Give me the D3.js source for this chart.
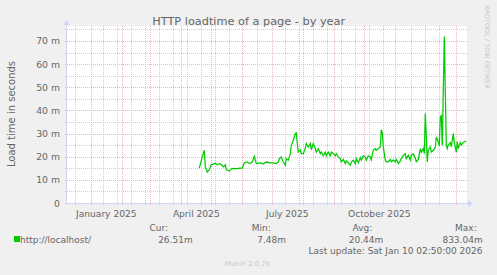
<!DOCTYPE html>
<html>
<head>
<meta charset="utf-8">
<script src="https://cdn.jsdelivr.net/npm/d3@7"></script>
<style>
  body { margin: 0; background: #F0F0F0; }
  svg { display: block; font-family: "DejaVu Sans", sans-serif; }
</style>
</head>
<body>
<div id="chart"></div>
<script>
// days since 2025-01-01 and load time (milliseconds)
var dayOffsets = [108, 111, 113, 114, 116, 118, 120, 122, 124, 126, 128, 130, 132, 134, 135, 138, 140, 143, 145, 149,
  151, 153, 155, 159, 161, 163, 165, 169, 172, 175, 179, 182, 185, 187, 188, 190, 192, 194, 195, 197,
  199, 200, 202, 204, 205, 206, 207, 209, 210, 212, 214, 215, 217, 219, 220, 222, 224, 225, 227, 229,
  230, 232, 234, 235, 237, 239, 240, 242, 244, 245, 247, 249, 250, 252, 254, 255, 257, 259, 260, 262,
  264, 265, 267, 269, 270, 272, 274, 275, 277, 279, 280, 282, 284, 285, 287, 289, 290, 291, 292, 294,
  295, 297, 299, 300, 302, 304, 305, 307, 309, 310, 312, 314, 315, 317, 319, 320, 322, 324, 325, 327,
  329, 330, 332, 333, 334, 335, 336, 337, 339, 340, 342, 344, 345, 347, 348, 349, 350, 351, 353, 355,
  356, 357, 359, 360, 362, 363, 365, 366, 367, 369, 370, 372, 373, 375];
var loadTime = [15.1, 19.9, 22.8, 15.6, 13.4, 14.4, 16.6, 16.8, 17.2, 16.5, 17.0, 16.6, 15.6, 16.5, 14.4, 13.8, 14.8, 15.0, 14.8, 15.1,
  15.1, 17.3, 17.7, 17.0, 17.8, 20.2, 17.0, 17.3, 16.8, 17.7, 17.3, 17.3, 17.0, 17.7, 19.2, 19.9, 17.7, 16.3, 19.2, 18.5,
  21.3, 24.9, 27.1, 30.0, 30.3, 25.7, 22.0, 23.0, 21.3, 21.3, 23.5, 25.7, 24.2, 25.7, 23.0, 25.7, 23.5, 22.0, 23.5, 21.3,
  22.0, 20.4, 22.0, 20.4, 22.0, 20.4, 22.0, 21.3, 20.4, 21.3, 19.9, 19.2, 17.7, 18.8, 17.0, 18.2, 17.3, 16.3, 17.7, 18.5,
  17.0, 19.2, 17.3, 19.6, 18.5, 20.4, 19.9, 18.5, 20.4, 19.9, 18.7, 22.8, 23.5, 22.8, 23.5, 24.2, 31.7, 30.2, 24.2, 18.5,
  17.8, 17.8, 18.8, 17.8, 18.5, 17.8, 18.8, 17.0, 18.2, 19.2, 20.6, 21.3, 19.2, 20.6, 18.5, 20.6, 21.3, 19.2, 17.8, 18.8,
  23.5, 22.0, 23.5, 21.3, 38.7, 28.8, 17.7, 22.8, 24.2, 22.0, 22.8, 24.0, 28.5, 26.5, 24.7, 37.2, 37.7, 24.9, 71.9, 25.0,
  23.5, 25.0, 26.1, 24.2, 30.0, 26.1, 22.0, 26.5, 23.5, 26.1, 25.0, 26.1, 26.5, 26.6];

var yTicks = [0, 10, 20, 30, 40, 50, 60, 70];
var xLabels = ['January 2025', 'April 2025', 'July 2025', 'October 2025'];
var legendHeads = ['Cur:', 'Min:', 'Avg:', 'Max:'];
var legendValues = ['26.51m', '7.48m', '20.44m', '833.04m'];

var width = 497, height = 275;
var plot = { left: 67, right: 467, top: 28, bottom: 203 };

var day = 864e5;
var jan1 = Date.UTC(2025, 0, 1);
var t0 = jan1 - 24.3 * day;

var svg = d3.select('#chart').append('svg')
  .attr('width', width)
  .attr('height', height);

svg.append('rect').attr('width', width).attr('height', height).attr('fill', '#F0F0F0');

var x = d3.scaleUtc()
  .domain([new Date(t0), new Date(t0 + 400 * day)])
  .range([plot.left, plot.right]);

var y = d3.scaleLinear()
  .domain([0, 175 / 2.315])
  .range([plot.bottom, plot.top]);

svg.append('rect')
  .attr('x', plot.left).attr('y', plot.top - 2)
  .attr('width', plot.right - plot.left).attr('height', plot.bottom - plot.top + 2)
  .attr('fill', '#fff');

// grid
var months = d3.utcMonth.range(x.domain()[0], x.domain()[1]);
var biweekly = d3.utcMonday.every(1).range(new Date(Date.UTC(2024, 11, 16)), x.domain()[1])
  .filter((d, i) => i % 2 == 0)
  .filter(d => x(d) > plot.left + 2 && months.every(m => Math.abs(x(m) - x(d)) > 3));

var grid = svg.append('g').attr('shape-rendering', 'crispEdges');
var minorCol = '#cdcdcd', majorCol = '#efb6b6';

grid.selectAll('.minx')
  .data(biweekly)
  .join('line')
  .attr('x1', d => Math.round(x(d)) + 0.5).attr('x2', d => Math.round(x(d)) + 0.5)
  .attr('y1', plot.top - 2).attr('y2', plot.bottom + 2)
  .attr('stroke', minorCol).attr('stroke-dasharray', '1,1');

var minorY = d3.range(5, 76, 10);
grid.selectAll('.miny')
  .data(minorY)
  .join('line')
  .attr('x1', plot.left - 2).attr('x2', plot.right + 2)
  .attr('y1', d => Math.round(y(d)) + 0.5).attr('y2', d => Math.round(y(d)) + 0.5)
  .attr('stroke', minorCol).attr('stroke-dasharray', '1,1');

grid.selectAll('.majx')
  .data(months.filter(d => x(d) > plot.left + 2))
  .join('line')
  .attr('x1', d => Math.round(x(d)) + 0.5).attr('x2', d => Math.round(x(d)) + 0.5)
  .attr('y1', plot.top - 2).attr('y2', plot.bottom + 3)
  .attr('stroke', majorCol).attr('stroke-dasharray', '1,1');

grid.selectAll('.majy')
  .data(yTicks.slice(1))
  .join('line')
  .attr('x1', plot.left - 2).attr('x2', plot.right + 2)
  .attr('y1', d => Math.round(y(d)) + 0.5).attr('y2', d => Math.round(y(d)) + 0.5)
  .attr('stroke', majorCol).attr('stroke-dasharray', '1,1');

// data line
var pts = dayOffsets.map((d, i) => ({ t: new Date(jan1 + d * day), v: loadTime[i] }));
svg.append('path')
  .datum(pts)
  .attr('fill', 'none')
  .attr('stroke', '#00CC00')
  .attr('stroke-width', 1.25)
  .attr('d', d3.line().x(d => x(d.t)).y(d => y(d.v)));

// axes
var axisCol = '#CFD6F8';
svg.append('line')
  .attr('x1', plot.left - 2).attr('x2', plot.right + 2)
  .attr('y1', plot.bottom + 0.5).attr('y2', plot.bottom + 0.5)
  .attr('stroke', axisCol).attr('shape-rendering', 'crispEdges');
svg.append('line')
  .attr('x1', plot.left - 0.5).attr('x2', plot.left - 0.5)
  .attr('y1', plot.bottom + 2).attr('y2', plot.top - 4)
  .attr('stroke', axisCol).attr('shape-rendering', 'crispEdges');
svg.append('path')
  .attr('d', `M${plot.right + 1},${plot.bottom - 3}L${plot.right + 6},${plot.bottom + 0.5}L${plot.right + 1},${plot.bottom + 4}Z`)
  .attr('fill', axisCol);
svg.append('path')
  .attr('d', `M${plot.left - 4},${plot.top - 3}L${plot.left - 0.5},${plot.top - 8}L${plot.left + 3},${plot.top - 3}Z`)
  .attr('fill', axisCol);

// tick labels
svg.append('g')
  .selectAll('text')
  .data(yTicks)
  .join('text')
  .attr('x', plot.left - 7)
  .attr('y', d => y(d) + 3.5)
  .attr('text-anchor', 'end')
  .attr('font-size', '9.3px')
  .attr('fill', '#666')
  .text(d => d == 0 ? '0' : d + ' m');

var labelMonths = [0, 3, 6, 9].map(m => new Date(Date.UTC(2025, m, 16)));
svg.append('g')
  .selectAll('text')
  .data(xLabels)
  .join('text')
  .attr('x', (d, i) => x(labelMonths[i]))
  .attr('y', 217)
  .attr('text-anchor', 'middle')
  .attr('font-size', '9.1px')
  .attr('fill', '#666')
  .text(d => d);

svg.append('text')
  .attr('x', 248.7).attr('y', 25)
  .attr('text-anchor', 'middle')
  .attr('font-size', '11.3px')
  .attr('fill', '#666')
  .text('HTTP loadtime of a page - by year');

svg.append('text')
  .attr('transform', 'translate(15,114) rotate(-90)')
  .attr('text-anchor', 'middle')
  .attr('font-size', '10px')
  .attr('fill', '#666')
  .text('Load time in seconds');

svg.append('text')
  .attr('transform', 'translate(485,5) rotate(90)')
  .attr('font-size', '6.5px')
  .attr('fill', '#c8c8c8')
  .text('RRDTOOL / TOBI OETIKER');

// legend
svg.append('rect').attr('x', 14).attr('y', 236).attr('width', 6).attr('height', 6).attr('fill', '#00CC00');
svg.append('text').attr('x', 20).attr('y', 243).attr('font-size', '9px').attr('fill', '#666').text('http://localhost/');

var headRight = [168, 270.7, 372.3, 476.7];
var valRight = [192.7, 286, 383.3, 482.7];
svg.append('g').selectAll('text')
  .data(legendHeads)
  .join('text')
  .attr('x', (d, i) => headRight[i]).attr('y', 231)
  .attr('text-anchor', 'end').attr('font-size', '9px').attr('fill', '#666')
  .text(d => d);
svg.append('g').selectAll('text')
  .data(legendValues)
  .join('text')
  .attr('x', (d, i) => valRight[i]).attr('y', 243)
  .attr('text-anchor', 'end').attr('font-size', '9px').attr('fill', '#666')
  .text(d => d);

svg.append('text')
  .attr('x', 482.5).attr('y', 254)
  .attr('text-anchor', 'end').attr('font-size', '9px').attr('fill', '#666')
  .text('Last update: Sat Jan 10 02:50:00 2026');

svg.append('text')
  .attr('x', 225).attr('y', 266)
  .attr('font-size', '6.9px').attr('fill', '#c8c8c8')
  .text('Munin 2.0.76');
</script>
</body>
</html>
